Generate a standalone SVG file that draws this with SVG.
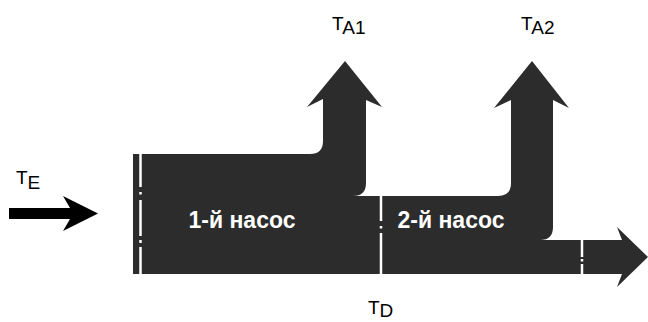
<svg xmlns="http://www.w3.org/2000/svg" width="648" height="322" viewBox="0 0 648 322">
<style>
.flow{fill:#2c2c2c}
.sep{stroke:#ffffff;stroke-width:2.5;fill:none}
.lbl{font-family:"Liberation Sans",Arial,sans-serif;font-size:19px;fill:#000}
.blk{font-family:"Liberation Sans",Arial,sans-serif;font-size:23px;font-weight:bold;fill:#ffffff}
</style>
<rect width="648" height="322" fill="#ffffff"/>
<g id="connectors">
<path id="inputArrow" d="M9,208 H70 L63,196 L98,213.5 L63,231 L70,219 H9 Z" fill="#000"/>
</g>
<g id="flow">
<path class="flow" d="M133,154 H310 Q323,154 323,141 V99 L307,107 L345,61 L382,107 L366,100 V183 Q366,196 353,196 H498 Q511,196 511,183 V100 L494,108 L532,61 L569,108 L553,100 V227 Q553,240 540,240 H622 L617,227 L648,257 L617,287 L622,274 H133 Z"/>
</g>
<g id="pump1">
<path class="sep" d="M140.5,154 V187 M140.5,192 V194.5 M140.5,200 V236 M140.5,240 V243 M140.5,247 V274"/>
<text class="blk" x="242" y="228" text-anchor="middle">1-й насос</text>
</g>
<g id="pump2">
<path class="sep" d="M381,196 V221 M381,226 V228.5 M381,233 V274"/>
<text class="blk" x="451" y="228" text-anchor="middle">2-й насос</text>
</g>
<g id="outlet">
<path class="sep" d="M582,240 V257 M582,259 V261.5 M582,264 V274"/>
</g>
<g id="labels">
<text class="lbl" x="16" y="184">T<tspan dy="5">E</tspan></text>
<text class="lbl" x="332" y="30">T<tspan dy="4">A1</tspan></text>
<text class="lbl" x="521" y="30">T<tspan dy="4">A2</tspan></text>
<text class="lbl" x="368" y="314">T<tspan dy="3">D</tspan></text>
</g>
</svg>
